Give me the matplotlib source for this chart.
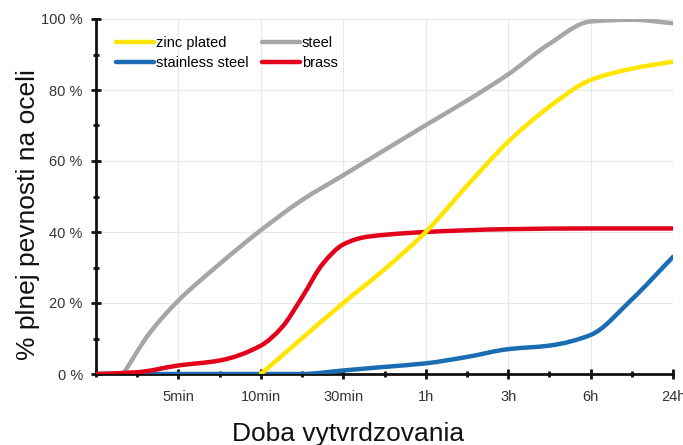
import numpy as np
import matplotlib
matplotlib.use("Agg")
import matplotlib.pyplot as plt
from matplotlib.path import Path
from matplotlib.patches import PathPatch
from matplotlib.lines import Line2D

plt.rcParams['font.family'] = ['Liberation Sans', 'DejaVu Sans']

# ---- data ----
tick_labels = ["5min", "10min", "30min", "1h", "3h", "6h", "24h"]
tick_pos = [1, 2, 3, 4, 5, 6, 7]

steel_x = [0.33, 0.65, 1, 1.5, 2, 2.5, 3, 4, 4.5, 5, 5.5, 6, 6.5, 7]
steel_y = [0, 11.5, 20.7, 31, 40.5, 49, 56, 70.1, 77, 84.4, 93, 99.3, 99.8, 98.8]

zinc_x = [2, 3, 3.5, 4, 4.5, 5, 5.5, 6, 6.5, 7]
zinc_y = [0, 20, 29.5, 40, 53, 65.4, 75.3, 82.8, 86, 88]

brass_x = [0, 0.5, 1, 1.5, 2, 2.25, 2.5, 2.75, 3, 3.25, 3.5, 4, 5, 6, 7]
brass_y = [0, 0.5, 2.4, 3.8, 8, 13, 21.6, 31, 36.5, 38.5, 39.2, 40, 40.8, 41, 41]

stainless_x = [0, 2.5, 3, 3.5, 4, 4.5, 5, 5.5, 6, 6.5, 7]
stainless_y = [0, 0, 1, 2, 3, 4.8, 7, 8, 11, 21, 33]

C_ZINC = "#FFE500"
C_STEEL = "#A6A6A6"
C_STAIN = "#1A6DB3"
C_BRASS = "#E2001A"


def smooth_path(xs, ys):
    """Monotone cubic (Fritsch-Carlson) curve through the points, as Bezier path."""
    x = np.asarray(xs, float)
    y = np.asarray(ys, float)
    n = len(x)
    h = np.diff(x)
    d = np.diff(y) / h
    m = np.zeros(n)
    for i in range(1, n - 1):
        if d[i - 1] * d[i] > 0:
            w1 = 2 * h[i] + h[i - 1]
            w2 = h[i] + 2 * h[i - 1]
            m[i] = (w1 + w2) / (w1 / d[i - 1] + w2 / d[i])
    m[0] = d[0]
    m[-1] = d[-1]
    verts = [(x[0], y[0])]
    codes = [Path.MOVETO]
    for i in range(n - 1):
        c1 = (x[i] + h[i] / 3, y[i] + m[i] * h[i] / 3)
        c2 = (x[i + 1] - h[i] / 3, y[i + 1] - m[i + 1] * h[i] / 3)
        verts += [c1, c2, (x[i + 1], y[i + 1])]
        codes += [Path.CURVE4] * 3
    return Path(verts, codes)


fig = plt.figure(figsize=(6.83, 4.45), dpi=100)
ax = fig.add_axes([96/683, 71/445, 577/683, 355/445])
ax.set_xlim(0, 7)
ax.set_ylim(0, 100)

for xs, ys, c in [(steel_x, steel_y, C_STEEL), (stainless_x, stainless_y, C_STAIN),
                  (brass_x, brass_y, C_BRASS), (zinc_x, zinc_y, C_ZINC)]:
    patch = PathPatch(smooth_path(xs, ys), fill=False, edgecolor=c, lw=3.2,
                      capstyle='round', joinstyle='round', zorder=3)
    ax.add_patch(patch)

ax.set_xticks(tick_pos)
ax.set_xticklabels(tick_labels)
ax.set_xticks(np.arange(0, 7.01, 0.5), minor=True)
ax.set_yticks([0, 20, 40, 60, 80, 100])
ax.set_yticklabels(["0 %", "20 %", "40 %", "60 %", "80 %", "100 %"])
ax.set_yticks(np.arange(0, 101, 10), minor=True)

ax.grid(True, which='major', color='#E8E8E8', lw=0.8, zorder=0)
ax.set_axisbelow(True)
for s in ['top', 'right']:
    ax.spines[s].set_visible(False)
for s in ['left', 'bottom']:
    ax.spines[s].set_linewidth(2)
    ax.spines[s].set_color('#111111')
    ax.spines[s].set_zorder(2)

ax.tick_params(axis='both', which='both', direction='inout', width=2, color='#111111')
ax.tick_params(axis='both', which='major', length=7, labelsize=10.5, labelcolor='#333333')
ax.tick_params(axis='both', which='minor', length=5)
ax.tick_params(axis='x', which='major', pad=8)
ax.tick_params(axis='y', which='major', pad=6)

handles = [Line2D([], [], color=C_ZINC, lw=3.2, solid_capstyle='round'),
           Line2D([], [], color=C_STAIN, lw=3.2, solid_capstyle='round'),
           Line2D([], [], color=C_STEEL, lw=3.2, solid_capstyle='round'),
           Line2D([], [], color=C_BRASS, lw=3.2, solid_capstyle='round')]
labels = ["zinc plated", "stainless steel", "steel", "brass"]
ax.legend(handles, labels, ncol=2, frameon=False, loc='upper left',
          bbox_to_anchor=(0.012, 0.99), handlelength=2.6, handletextpad=0.15,
          columnspacing=0.9, labelspacing=0.45, fontsize=10.5)

fig.text(348/683, 1 - 434/445, "Doba vytvrdzovania", fontsize=19, ha='center',
         va='center', color='#111111')
fig.text(28/683, 1 - 215/445, "% plnej pevnosti na oceli", fontsize=19, ha='center',
         va='center', rotation=90, color='#111111')

fig.savefig("out.png", dpi=100)
